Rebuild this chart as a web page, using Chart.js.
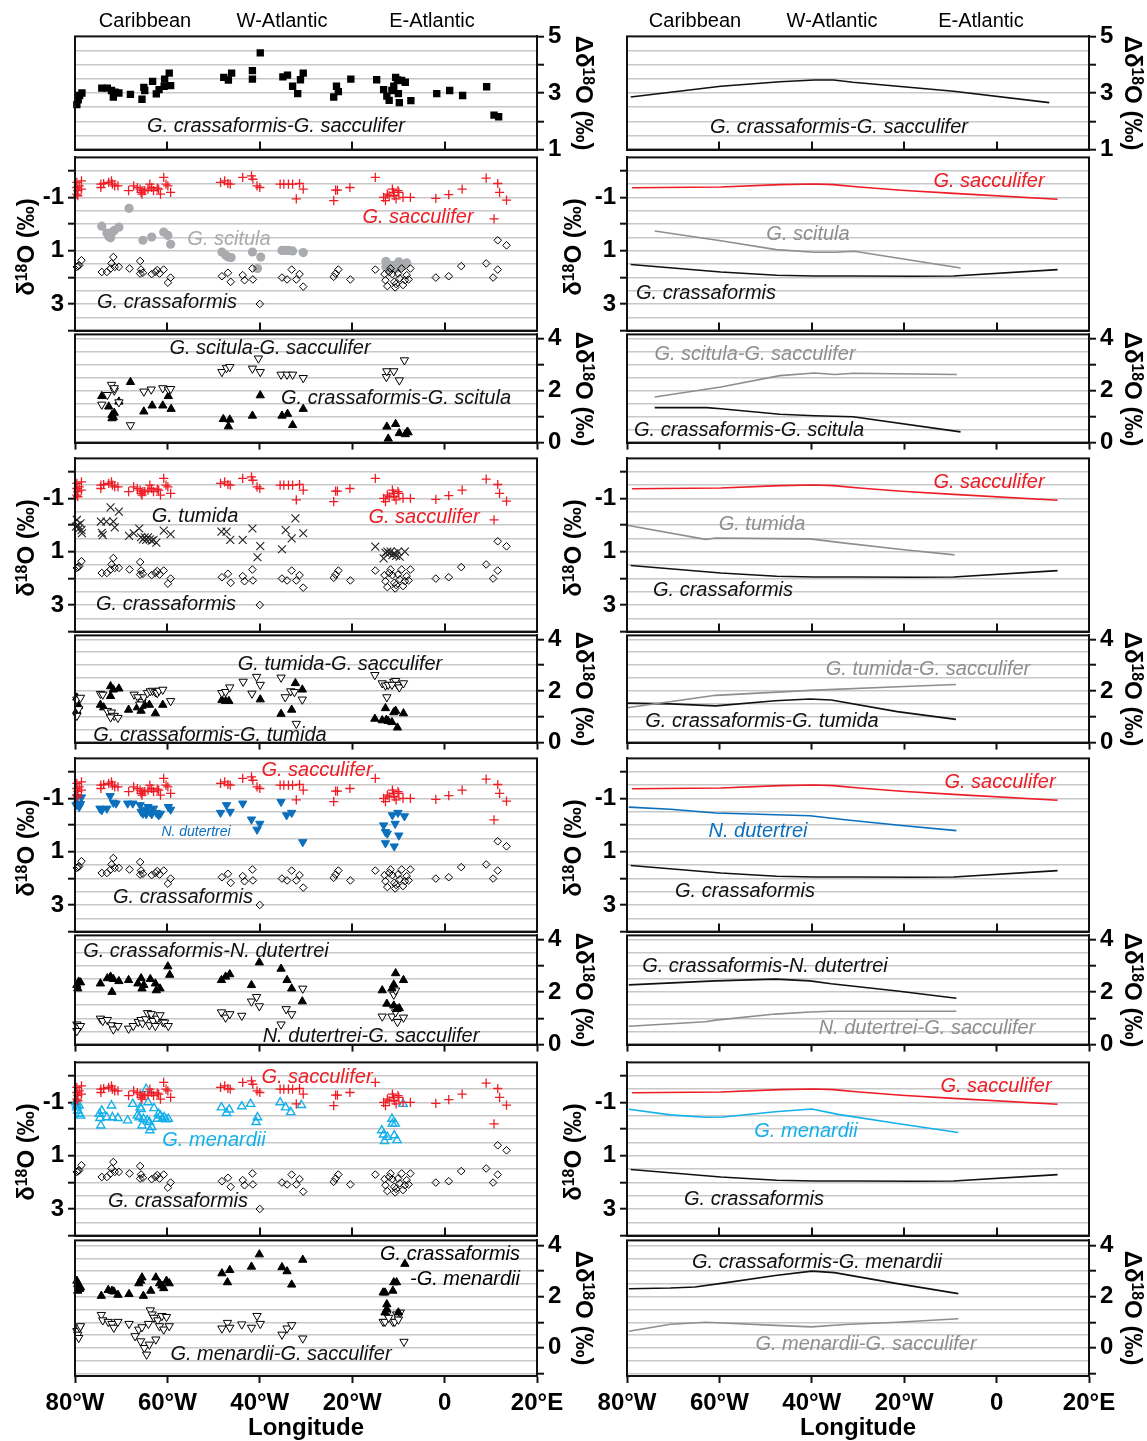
<!DOCTYPE html>
<html>
<head>
<meta charset="utf-8">
<script src="https://cdn.jsdelivr.net/npm/chart.js@4.4.1/dist/chart.umd.min.js"></script>
<style>
  html, body { margin: 0; padding: 0; background: #fff; }
  body { position: relative; width: 1147px; height: 1441px; overflow: hidden;
         font-family: 'Liberation Sans', Arial, Helvetica, sans-serif; }
  canvas { position: absolute; }
  .t { position: absolute; white-space: nowrap; line-height: 1; }
  .sup { font-size: 0.66em; position: relative; top: -0.42em; }
</style>
</head>
<body>
<script>
// ---------- axis ticks ----------
const lonTicks  = [-80, -60, -40, -20, 0, 20];
const lonLabels = ['80°W', '60°W', '40°W', '20°W', '0', '20°E'];
const topLabels  = [1, 3, 5];     // Δδ18O, G. crassaformis - G. sacculifer (top row)
const sepLabels  = [-1, 1, 3];    // δ18O of single species
const diffLabels = [0, 2, 4];     // Δδ18O between species

// ---------- sample data: [longitude (°E, west negative), value ‰] ----------
const crassSaccDiffPts = [[-79.6,2.59],[-79.3,2.76],[-79.0,2.91],[-78.5,3.00],
  [-74.2,3.17],[-73.0,3.17],[-72.1,3.09],[-71.7,2.86],[-71.3,3.03],[-70.5,3.00],[-68.0,2.95],[-65.5,2.78],[-65.1,3.20],[-64.9,3.09],[-63.2,3.41],[-62.4,2.97],[-61.8,3.12],[-60.7,3.24],[-60.6,3.49],[-59.6,3.70],[-59.3,3.26],
  [-47.8,3.55],[-46.8,3.46],[-46.1,3.70],[-41.6,3.79],[-41.6,3.49],[-39.9,4.42],
  [-35.0,3.57],[-34.0,3.63],[-32.9,3.24],[-31.8,2.98],[-31.2,3.47],[-30.6,3.70],
  [-24.0,2.86],[-23.4,3.24],[-23.0,3.05],[-20.3,3.49],
  [-14.7,3.47],[-13.2,3.12],[-12.5,2.89],[-12.0,2.74],[-11.4,3.09],[-11.0,3.24],[-10.6,3.55],[-10.2,3.46],[-10.0,2.98],[-9.8,2.66],[-9.3,3.44],[-8.5,3.38],[-7.3,2.73],
  [-1.7,2.98],[1.1,3.09],[3.9,2.91],[9.1,3.22],[10.7,2.22],[11.7,2.16]];

const sacculiferPts = [[-79.6,-1.56],[-79.6,-1.37],[-79.4,-1.25],[-79.1,-1.43],[-78.6,-1.62],[-78.6,-1.31],[-79.6,-1.12],[-79.4,-1.06],
  [-74.4,-1.50],[-74.4,-1.37],[-73.8,-1.52],[-72.7,-1.56],[-72.1,-1.62],[-71.9,-1.50],[-71.4,-1.43],[-70.7,-1.43],
  [-68.4,-1.25],[-67.3,-1.43],[-66.5,-1.37],[-65.9,-1.31],[-65.7,-1.19],[-65.5,-1.12],[-65.3,-1.25],[-64.9,-1.25],[-64.2,-1.31],[-63.8,-1.50],[-63.4,-1.37],[-63.0,-1.25],[-62.2,-1.35],[-61.9,-1.31],[-61.5,-1.12],[-60.8,-1.75],[-60.3,-1.50],[-59.9,-1.43],[-59.3,-1.19],
  [-48.5,-1.56],[-47.6,-1.62],[-46.9,-1.52],[-46.4,-1.50],[-43.7,-1.75],[-41.8,-1.81],[-41.5,-1.68],[-40.6,-1.43],[-40.0,-1.37],
  [-35.6,-1.50],[-34.8,-1.50],[-33.8,-1.50],[-32.9,-1.50],[-31.4,-1.52],[-30.6,-1.31],[-32.1,-0.94],
  [-24.0,-0.88],[-23.6,-1.27],[-23.2,-1.27],[-20.5,-1.37],
  [-15.0,-1.75],[-13.2,-1.00],[-12.8,-0.88],[-12.4,-1.12],[-12.0,-1.06],[-11.3,-1.31],[-11.1,-1.19],[-10.9,-1.06],[-10.5,-0.94],[-10.1,-1.25],[-9.9,-1.19],[-9.0,-1.00],[-7.4,-1.00],
  [-1.9,-0.96],[0.9,-1.10],[3.8,-1.31],[9.0,-1.72],[11.5,-1.52],[11.9,-1.19],[13.4,-0.90],[10.7,-0.19]];

const crassaformisPts = [[-79.6,1.61],[-79.4,1.58],[-79.1,1.55],[-78.6,1.36],
  [-74.2,1.80],[-73.1,1.80],[-72.3,1.67],[-71.7,1.24],[-72.1,1.48],[-71.4,1.61],[-70.5,1.61],
  [-68.2,1.67],[-65.9,1.39],[-65.7,1.71],[-65.9,1.86],[-65.3,1.83],[-63.4,1.88],[-62.6,1.80],[-62.2,1.73],[-61.7,1.86],[-60.8,1.71],[-59.9,2.20],[-59.3,2.01],
  [-48.2,1.96],[-46.9,1.83],[-46.3,2.17],[-43.7,1.92],[-43.3,2.11],[-41.6,1.67],[-41.5,2.08],[-40.0,3.00],
  [-35.2,2.01],[-34.1,2.08],[-33.1,1.71],[-32.1,2.08],[-31.4,1.88],[-30.6,2.35],
  [-24.0,1.98],[-23.6,1.86],[-23.0,1.71],[-20.4,2.08],
  [-15.0,1.71],[-13.0,1.88],[-12.8,2.11],[-12.4,2.33],[-12.0,1.80],[-11.7,1.67],[-11.3,1.88],[-10.9,2.17],[-10.7,2.38],[-10.5,2.25],[-10.1,1.86],[-9.7,2.04],[-9.3,1.67],[-9.0,2.29],[-8.6,2.11],[-8.2,1.92],[-7.8,2.08],[-7.4,1.67],
  [-1.9,2.01],[0.9,1.96],[3.6,1.58],[9.0,1.48],[10.5,2.01],[11.5,1.71],[11.5,0.61],[13.4,0.80]];

const scitulaPts = [[-68.3,-0.59],[-74.2,0.08],[-73.1,0.34],[-72.7,0.47],[-72.3,0.52],[-71.9,0.30],[-71.5,0.24],[-70.5,0.12],[-65.3,0.61],[-63.4,0.49],[-60.8,0.30],[-59.9,0.43],[-59.3,0.76],
  [-48.2,1.05],[-47.4,1.17],[-46.8,1.24],[-46.2,1.26],[-41.6,1.05],[-40.5,1.67],[-39.8,1.24],
  [-35.2,0.99],[-34.4,0.99],[-33.8,0.99],[-32.9,1.01],[-30.6,1.07],
  [-12.7,1.40],[-12.7,1.61],[-11.3,1.55],[-9.9,1.42],[-8.2,1.46],[-9.1,1.58],[-10.5,1.67],[-11.7,1.67]];

const scitSaccDiffPts = [[-74.2,1.46],[-73.0,1.83],[-72.1,2.22],[-71.5,2.00],[-71.5,2.09],[-70.5,1.55],[-68.0,0.67],[-65.1,1.96],[-63.5,2.04],[-61.0,2.09],[-59.8,2.04],[-59.3,2.06],
  [-48.2,2.71],[-47.2,2.86],[-46.5,2.90],[-41.6,2.84],[-40.3,3.23],[-39.9,2.71],[-35.4,2.61],[-34.1,2.61],[-32.9,2.61],[-30.6,2.48],
  [-12.6,2.52],[-12.5,2.74],[-11.0,2.74],[-9.8,2.39],[-8.7,3.16]];

const crassScitDiffPts = [[-74.2,1.78],[-72.7,1.38],[-72.0,1.06],[-71.7,0.97],[-71.5,1.14],[-70.5,1.57],[-68.0,2.32],[-65.1,1.19],[-63.3,1.42],[-61.0,1.42],[-59.8,1.78],[-59.2,1.29],[-72.0,0.93],
  [-47.9,0.90],[-46.5,0.88],[-46.8,0.62],[-41.6,1.03],[-39.9,1.81],[-35.2,1.03],[-34.0,1.10],[-32.9,0.67],[-30.6,1.29],
  [-12.5,0.61],[-12.2,0.15],[-10.6,0.71],[-9.8,0.36],[-8.5,0.32],[-8.1,0.41],[-7.9,0.39]];

const tumidaPts = [[-79.6,-0.19],[-79.4,0.00],[-79.1,0.13],[-78.8,-0.06],[-78.6,0.19],[-78.5,0.31],[-79.8,0.06],
  [-74.4,-0.13],[-74.2,0.29],[-74.0,0.38],[-73.2,-0.13],[-72.3,-0.66],[-71.7,-0.13],[-71.4,0.09],[-70.5,-0.50],
  [-68.3,0.41],[-67.3,0.31],[-66.1,0.13],[-65.7,0.46],[-65.3,0.54],[-64.9,0.46],[-64.6,0.56],[-64.2,0.46],[-63.8,0.54],[-63.4,0.59],[-63.0,0.56],[-62.4,0.66],[-60.8,0.21],[-59.3,0.34],
  [-48.3,0.25],[-47.2,0.25],[-46.4,0.56],[-43.7,0.56],[-41.6,0.13],[-40.5,1.21],[-39.9,0.79],[-35.2,0.91],[-34.4,0.19],[-33.1,0.50],[-32.3,-0.25],[-30.6,0.31],
  [-15.0,0.81],[-13.2,1.25],[-12.8,1.04],[-12.4,1.00],[-12.0,1.06],[-11.7,1.00],[-11.3,1.13],[-10.9,1.06],[-10.5,1.16],[-10.1,1.00],[-9.7,1.19],[-8.6,1.00]];

const tumSaccDiffPts = [[-79.6,1.67],[-79.2,1.30],[-79.6,1.04],[-78.8,1.74],[-74.5,1.89],[-74.0,1.86],[-73.0,1.23],[-72.1,1.17],[-71.5,1.04],[-70.7,0.96],[-72.3,0.98],[-67.2,1.86],[-66.4,1.76],[-65.5,1.58],[-65.1,1.76],[-64.3,1.92],[-63.7,1.99],[-63.2,2.01],[-62.6,1.96],[-62.2,1.92],[-61.8,2.01],[-61.0,2.05],[-59.3,1.61],[-66.0,1.48],
  [-48.2,1.92],[-47.4,1.96],[-46.5,2.14],[-43.6,2.36],[-41.7,1.90],[-40.7,2.55],[-39.9,2.24],[-35.4,2.52],[-34.5,1.76],[-33.3,1.99],[-32.5,1.96],[-30.8,1.67],[-32.1,0.73],
  [-15.1,2.62],[-13.5,2.30],[-12.8,2.21],[-12.5,1.76],[-12.2,2.24],[-11.0,2.36],[-10.6,2.39],[-10.2,2.24],[-9.8,2.14],[-8.9,2.30],[-11.4,2.24]];

const crassTumDiffPts = [[-79.6,1.74],[-79.2,1.42],[-79.6,1.23],[-74.5,1.46],[-73.8,1.36],[-72.3,2.18],[-71.7,2.05],[-70.5,2.09],[-72.3,1.80],[-68.4,1.27],[-66.5,1.36],[-65.7,1.23],[-65.5,1.42],[-65.1,1.51],[-63.9,1.46],[-62.6,1.13],[-61.0,1.46],
  [-48.2,1.65],[-47.4,1.61],[-46.7,1.61],[-39.9,1.67],[-35.4,1.11],[-33.1,1.27],[-32.3,2.30],[-30.8,2.05],
  [-15.1,0.92],[-13.5,0.86],[-12.8,1.33],[-12.2,0.83],[-11.4,0.79],[-11.0,1.17],[-10.6,1.23],[-10.2,0.58],[-8.9,1.13],[-12.6,0.88]];

const dutertreiPts = [[-79.6,-1.06],[-79.4,-0.81],[-79.2,-0.71],[-79.1,-0.68],[-78.8,-0.79],[-78.6,-1.04],[-79.8,-0.75],
  [-74.6,-0.62],[-74.2,-0.56],[-73.1,-0.62],[-72.4,-1.09],[-71.7,-0.84],[-71.1,-0.81],[-68.6,-0.81],[-67.5,-0.81],[-65.9,-0.75],[-65.7,-0.50],[-65.3,-0.43],[-64.9,-0.58],[-64.6,-0.41],[-64.2,-0.68],[-63.8,-0.50],[-63.4,-0.41],[-63.0,-0.62],[-62.4,-0.46],[-61.9,-0.37],[-61.5,-0.43],[-59.8,-0.68],[-59.3,-0.58],
  [-48.5,-0.46],[-47.2,-0.75],[-46.4,-0.50],[-43.7,-0.81],[-41.8,-0.21],[-40.6,0.17],[-40.0,-0.05],[-35.4,-0.87],[-34.2,-0.37],[-33.1,-0.46],[-30.7,0.64],
  [-13.2,0.01],[-12.8,0.26],[-12.4,0.32],[-12.8,0.68],[-10.9,0.80],[-11.3,-0.37],[-10.7,-0.05],[-10.1,-0.46],[-9.9,0.39],[-8.7,-0.33]];

const crassDutDiffPts = [[-79.6,2.26],[-79.2,2.39],[-78.8,2.36],[-79.4,2.13],[-74.5,2.32],[-73.0,2.52],[-72.3,2.58],[-72.0,2.00],[-71.7,2.49],[-70.5,2.41],[-68.4,2.45],[-66.4,2.32],[-65.7,2.52],[-65.5,2.13],[-65.1,2.26],[-63.7,2.49],[-62.6,2.32],[-62.4,2.06],[-61.6,2.13],[-59.9,2.97],[-59.5,2.65],
  [-48.3,2.45],[-47.4,2.58],[-46.5,2.67],[-41.8,2.26],[-40.1,3.12],[-35.4,2.88],[-34.1,2.45],[-33.1,2.13],[-30.8,1.64],
  [-13.5,2.06],[-11.4,2.13],[-11.0,2.28],[-10.6,2.71],[-8.9,2.45],[-12.5,1.55],[-11.0,1.48],[-10.3,1.35],[-9.8,1.38]];

const dutSaccDiffPts = [[-79.6,0.77],[-79.2,0.65],[-78.8,0.71],[-79.6,0.52],[-74.5,0.99],[-74.0,0.90],[-73.0,0.94],[-72.1,0.74],[-71.7,0.58],[-70.7,0.71],[-68.4,0.61],[-67.4,0.71],[-66.3,0.86],[-65.7,0.94],[-65.4,0.81],[-64.7,0.97],[-64.3,1.20],[-63.9,0.74],[-63.5,1.16],[-63.1,0.90],[-62.6,0.71],[-62.2,0.99],[-61.6,1.12],[-61.0,0.86],[-60.6,0.84],[-59.8,0.71],
  [-48.3,1.23],[-47.4,1.03],[-46.5,1.16],[-43.9,1.10],[-41.8,1.64],[-40.7,1.81],[-40.1,1.46],[-35.4,0.77],[-34.3,1.35],[-33.1,1.16],[-30.7,2.13],
  [-13.5,1.07],[-11.4,1.07],[-11.0,1.90],[-10.6,2.06],[-10.2,0.86],[-8.9,1.03],[-10.6,1.23]];

const menardiiPts = [[-79.8,-1.00],[-79.6,-0.81],[-79.4,-0.69],[-79.1,-0.57],[-78.8,-0.50],[-79.6,-0.90],[-79.1,-0.88],
  [-74.7,-0.57],[-74.6,-0.41],[-74.4,-0.13],[-74.2,-0.69],[-73.1,-0.44],[-72.1,-0.88],[-71.9,-0.44],[-70.7,-0.41],[-68.6,-0.32],[-67.5,-0.94],[-66.5,-0.50],[-66.1,-0.44],[-65.9,-0.81],[-65.7,-0.75],[-65.5,-0.13],[-65.2,-0.38],[-64.6,-1.50],[-64.4,-0.32],[-64.2,-1.00],[-63.9,-0.26],[-63.8,0.05],[-63.4,-0.07],[-62.9,-0.78],[-62.2,-0.38],[-61.9,-0.57],[-61.5,-0.50],[-61.1,-0.38],[-60.7,-0.44],[-60.3,-0.36],[-59.8,-0.38],
  [-48.3,-0.81],[-47.2,-0.60],[-46.6,-0.73],[-43.9,-0.85],[-42.0,-0.94],[-40.8,-0.26],[-40.5,-0.44],
  [-35.6,-1.00],[-34.4,-0.81],[-33.3,-0.63],[-31.0,-0.90],
  [-13.6,0.05],[-13.2,0.21],[-13.0,0.46],[-12.4,0.30],[-11.4,-0.38],[-11.3,-0.20],[-10.7,-0.20],[-10.3,0.42],[-10.9,0.24],[-9.0,-0.94]];

const crassMenDiffPts = [[-79.6,2.62],[-79.4,2.49],[-79.2,2.36],[-79.0,2.30],[-79.4,2.23],[-78.8,2.36],
  [-74.3,2.03],[-72.8,2.26],[-72.0,2.23],[-71.6,2.20],[-70.7,2.07],[-68.3,2.10],[-66.2,2.52],[-65.8,2.62],[-65.5,2.75],[-65.2,2.03],[-63.6,2.23],[-62.5,2.75],[-61.7,2.52],[-61.2,2.43],[-60.8,2.33],[-60.2,2.62],[-59.6,2.52],
  [-48.2,2.91],[-46.5,3.04],[-47.0,2.56],[-41.8,3.17],[-40.1,3.65],[-35.2,3.15],[-34.1,2.99],[-33.1,2.47],[-30.7,3.44],
  [-13.3,2.16],[-12.9,2.16],[-12.5,1.70],[-11.2,2.23],[-11.0,2.56],[-10.4,2.56],[-10.0,1.38],[-8.6,3.28],[-12.9,1.38],[-12.5,1.51]];

const menSaccDiffPts = [[-79.6,0.66],[-79.4,0.52],[-79.2,0.39],[-79.0,0.79],[-78.8,0.85],
  [-74.3,1.29],[-74.0,1.08],[-72.8,1.02],[-72.0,0.94],[-71.6,0.79],[-70.7,1.02],[-68.3,0.94],[-67.0,0.46],[-66.2,0.72],[-65.8,0.26],[-65.5,0.81],[-65.0,0.00],[-64.5,-0.26],[-64.1,0.94],[-63.9,0.13],[-63.7,1.47],[-63.3,1.31],[-62.9,1.18],[-62.5,0.33],[-62.1,1.08],[-61.7,0.85],[-61.2,1.25],[-60.8,0.72],[-60.2,1.21],[-59.6,0.85],
  [-48.2,0.76],[-47.0,0.98],[-46.5,0.79],[-43.9,0.92],[-41.8,0.79],[-40.6,1.25],[-39.9,0.94],
  [-35.2,0.52],[-34.1,0.76],[-33.1,0.89],[-30.7,0.37],
  [-13.3,1.02],[-12.9,1.02],[-12.5,1.31],[-11.2,1.02],[-10.8,1.02],[-10.4,1.31],[-10.0,1.11],[-9.6,1.38],[-8.8,0.24],[-12.1,1.18]];

// ---------- regional mean curves ----------
const lineCrassSacc = [[-79.2,2.86],[-59.7,3.24],[-46.9,3.40],[-39.4,3.46],[-35.3,3.46],[-31.1,3.38],[-9.3,3.06],[11.4,2.66]];
const lineSacc      = [[-78.9,-1.36],[-59.7,-1.39],[-46.9,-1.48],[-39.4,-1.50],[-35.3,-1.48],[-30.4,-1.40],[-20.6,-1.27],[-9.3,-1.15],[13.2,-0.93]];
const lineCrass     = [[-79.2,1.52],[-59.7,1.80],[-47.6,1.92],[-39.4,1.95],[-31.0,1.95],[-18.0,1.96],[-9.3,1.95],[13.2,1.71]];
const lineScitula   = [[-74.0,0.26],[-59.7,0.63],[-47.7,0.96],[-39.4,1.06],[-34.9,1.06],[-30.8,1.02],[-7.8,1.65]];
const lineScitSacc  = [[-74.0,1.75],[-59.7,2.13],[-46.9,2.57],[-39.4,2.67],[-35.0,2.61],[-31.1,2.66],[-8.6,2.61]];
const lineCrassScit = [[-74.0,1.34],[-62.7,1.34],[-59.7,1.30],[-46.9,1.09],[-39.4,1.03],[-31.1,0.99],[-7.8,0.41]];
const lineTumida    = [[-80.0,0.01],[-63.0,0.54],[-60.8,0.49],[-40.4,0.52],[-32.8,0.68],[-20.0,0.93],[-9.1,1.12]];
const lineTumSacc   = [[-80.0,1.35],[-60.8,1.83],[-40.4,2.02],[-20.0,2.17],[-8.8,2.25]];
const lineCrassTum  = [[-80.0,1.53],[-70.6,1.50],[-60.8,1.42],[-47.9,1.62],[-40.4,1.69],[-35.8,1.65],[-21.5,1.20],[-8.8,0.90]];
const lineDut       = [[-79.6,-0.67],[-70.6,-0.59],[-60.8,-0.45],[-40.4,-0.35],[-32.8,-0.20],[-20.0,0.03],[-8.7,0.21]];
const lineCrassDut  = [[-79.6,2.27],[-60.8,2.42],[-47.9,2.49],[-40.4,2.42],[-35.8,2.31],[-21.5,2.04],[-8.7,1.76]];
const lineDutSacc   = [[-79.6,0.70],[-63.0,0.87],[-60.8,0.93],[-47.9,1.16],[-40.4,1.24],[-35.8,1.27],[-8.7,1.27]];
const lineMen       = [[-79.6,-0.74],[-70.6,-0.53],[-63.0,-0.44],[-59.2,-0.45],[-47.9,-0.65],[-40.0,-0.75],[-34.3,-0.55],[-21.5,-0.21],[-8.3,0.13]];
const lineCrassMen  = [[-79.6,2.31],[-70.6,2.34],[-65.3,2.38],[-59.2,2.53],[-47.9,2.83],[-40.0,3.00],[-35.1,2.94],[-21.5,2.51],[-8.3,2.12]];
const lineMenSacc   = [[-79.6,0.65],[-70.6,0.92],[-63.0,1.00],[-59.2,0.97],[-47.9,0.88],[-40.0,0.82],[-32.8,0.91],[-21.5,1.00],[-8.3,1.14]];

// ---------- page layout ----------
const FONT = "'Liberation Sans', Arial, Helvetica, sans-serif";
Chart.defaults.font.family = FONT;

const rowTop = [36, 157, 334, 458, 635, 758, 935, 1062, 1240];
const rowBot = [150, 331, 443, 632, 743, 932, 1045, 1236, 1376];
const colLeft = [75, 627];
const colRight = [537, 1089];

const SEP = { min: -2.5, max: 4, reverse: true, side: 'left', labels: sepLabels, inward: true };
const DIF = { min: 0, max: 4.15, reverse: false, side: 'right', labels: diffLabels, inward: false };
const rowAxis = [
  { min: 1, max: 5, reverse: false, side: 'right', labels: topLabels, inward: true },
  SEP, DIF, SEP, DIF, SEP, DIF, SEP,
  { min: -1.1, max: 4.2, reverse: false, side: 'right', labels: diffLabels, inward: false }
];

const RED = '#ee1c25', BLUE = '#0b6fbd', CYAN = '#14b0ea', GRAY = '#8e8e90', LIGHT = '#a9abae', INK = '#111';
const CLEAR = 'rgba(0,0,0,0)';

const MARK = {
  square:  { pointStyle: 'rect', pointRadius: 5.2, pointBackgroundColor: '#000', pointBorderWidth: 0 },
  plus:    { pointStyle: 'cross', pointRadius: 4.6, pointBorderColor: RED, pointBorderWidth: 1.3 },
  diamond: { pointStyle: 'rectRot', pointRadius: 3.8, pointBackgroundColor: CLEAR, pointBorderColor: '#000', pointBorderWidth: 1 },
  dot:     { pointStyle: 'circle', pointRadius: 4.6, pointBackgroundColor: LIGHT, pointBorderWidth: 0 },
  xmark:   { pointStyle: 'crossRot', pointRadius: 5.6, pointBorderColor: '#222', pointBorderWidth: 1.1 },
  triUp:   { pointStyle: 'triangle', pointRadius: 4.8, pointBackgroundColor: '#000', pointBorderColor: '#000', pointBorderWidth: 1 },
  triOpen: { pointStyle: 'triangle', pointRotation: 180, pointRadius: 4.8, pointBackgroundColor: '#fff', pointBorderColor: '#000', pointBorderWidth: 1 },
  triBlue: { pointStyle: 'triangle', pointRotation: 180, pointRadius: 4.8, pointBackgroundColor: BLUE, pointBorderColor: BLUE, pointBorderWidth: 1 },
  triCyan: { pointStyle: 'triangle', pointRadius: 4.8, pointBackgroundColor: CLEAR, pointBorderColor: CYAN, pointBorderWidth: 1.4 }
};
const lineStyle = c => ({ showLine: true, borderColor: c, borderWidth: 1.6, pointRadius: 0, tension: 0, fill: false });

const toXY = a => a.map(([x, y]) => ({ x, y }));
const scat = (data, m) => Object.assign({ data: toXY(data), clip: 8, showLine: false }, MARK[m]);
const curve = (data, c) => Object.assign({ data: toXY(data), clip: 4 }, lineStyle(c));

// first dataset in each list is painted on top
const leftPanels = [
  [scat(crassSaccDiffPts, 'square')],
  [scat(sacculiferPts, 'plus'), scat(crassaformisPts, 'diamond'), scat(scitulaPts, 'dot')],
  [scat(scitSaccDiffPts, 'triOpen'), scat(crassScitDiffPts, 'triUp')],
  [scat(sacculiferPts, 'plus'), scat(tumidaPts, 'xmark'), scat(crassaformisPts, 'diamond')],
  [scat(tumSaccDiffPts, 'triOpen'), scat(crassTumDiffPts, 'triUp')],
  [scat(sacculiferPts, 'plus'), scat(dutertreiPts, 'triBlue'), scat(crassaformisPts, 'diamond')],
  [scat(crassDutDiffPts, 'triUp'), scat(dutSaccDiffPts, 'triOpen')],
  [scat(sacculiferPts, 'plus'), scat(menardiiPts, 'triCyan'), scat(crassaformisPts, 'diamond')],
  [scat(crassMenDiffPts, 'triUp'), scat(menSaccDiffPts, 'triOpen')]
];
const rightPanels = [
  [curve(lineCrassSacc, INK)],
  [curve(lineSacc, RED), curve(lineScitula, GRAY), curve(lineCrass, INK)],
  [curve(lineScitSacc, GRAY), curve(lineCrassScit, INK)],
  [curve(lineSacc, RED), curve(lineTumida, GRAY), curve(lineCrass, INK)],
  [curve(lineTumSacc, GRAY), curve(lineCrassTum, INK)],
  [curve(lineSacc, RED), curve(lineDut, BLUE), curve(lineCrass, INK)],
  [curve(lineCrassDut, INK), curve(lineDutSacc, GRAY)],
  [curve(lineSacc, RED), curve(lineMen, CYAN), curve(lineCrass, INK)],
  [curve(lineCrassMen, INK), curve(lineMenSacc, GRAY)]
];

// frame around each plot area, plus the short inward longitude ticks
const panelFrame = {
  id: 'panelFrame',
  afterDraw(chart, args, opts) {
    const { ctx, chartArea: a } = chart;
    const x = chart.scales.x;
    ctx.save();
    ctx.strokeStyle = INK;
    ctx.lineWidth = 2;
    ctx.strokeRect(a.left, a.top, a.right - a.left, a.bottom - a.top);
    if (opts.inward) {
      ctx.beginPath();
      lonTicks.slice(1, -1).forEach(v => {
        const px = Math.round(x.getPixelForValue(v));
        ctx.moveTo(px, a.bottom);
        ctx.lineTo(px, a.bottom - 8);
      });
      ctx.stroke();
    }
    ctx.restore();
  }
};

function makePanel(row, col, datasets) {
  const ax = rowAxis[row];
  const last = row === rowAxis.length - 1;
  const x0 = colLeft[col], x1 = colRight[col], y0 = rowTop[row], y1 = rowBot[row];
  const ML = ax.side === 'left' ? 72 : 46;
  const MR = ax.side === 'right' ? 46 : 46;
  const MT = 18, MB = last ? 46 : 18;
  const cv = document.createElement('canvas');
  cv.width = x1 - x0 + ML + MR;
  cv.height = y1 - y0 + MT + MB;
  cv.style.left = (x0 - ML) + 'px';
  cv.style.top = (y0 - MT) + 'px';
  document.body.appendChild(cv);
  const tickFont = { family: FONT, size: 24, weight: 'bold' };
  new Chart(cv, {
    type: 'scatter',
    data: { datasets },
    options: {
      responsive: false,
      animation: false,
      events: [],
      layout: { padding: { left: ax.side === 'left' ? 0 : ML, right: ax.side === 'right' ? 0 : MR, top: MT, bottom: 0 } },
      plugins: { legend: { display: false }, tooltip: { enabled: false }, panelFrame: { inward: ax.inward } },
      scales: {
        x: {
          type: 'linear', position: 'bottom', min: lonTicks[0], max: lonTicks[lonTicks.length - 1],
          afterBuildTicks: s => { s.ticks = lonTicks.map(v => ({ value: v })); },
          afterFit: s => { s.height = MB; },
          ticks: { display: last, autoSkip: false, maxRotation: 0, padding: 6, color: '#000', font: tickFont,
                   callback: v => lonLabels[lonTicks.indexOf(v)] },
          grid: { drawOnChartArea: false, drawTicks: !ax.inward, tickLength: 7, tickWidth: 2, tickColor: INK },
          border: { display: true, color: INK, width: 2 }
        },
        y: {
          type: 'linear', position: ax.side, min: ax.min, max: ax.max, reverse: ax.reverse,
          afterFit: s => { s.width = ax.side === 'left' ? ML : MR; },
          ticks: { stepSize: 0.5, includeBounds: false, autoSkip: false, padding: 4, color: '#000', font: tickFont,
                   callback: v => ax.labels.includes(v) ? String(v) : '' },
          grid: {
            color: c => (c.tick && (c.tick.value <= ax.min || c.tick.value >= ax.max)) ? CLEAR : '#c8c8c8',
            lineWidth: 1.4,
            drawTicks: true, tickLength: 7, tickWidth: 2,
            tickColor: c => (c.tick && Number.isInteger(c.tick.value)) ? INK : CLEAR
          },
          border: { display: true, color: INK, width: 2 }
        }
      }
    },
    plugins: [panelFrame]
  });
}

leftPanels.forEach((sets, r) => makePanel(r, 0, sets));
rightPanels.forEach((sets, r) => makePanel(r, 1, sets));

// ---------- text ----------
function addText(html, x, y, o = {}) {
  const d = document.createElement('div');
  d.className = 't';
  d.innerHTML = html;
  d.style.left = x + 'px';
  d.style.top = y + 'px';
  d.style.fontSize = (o.size || 20) + 'px';
  d.style.color = o.color || '#000';
  if (o.italic) d.style.fontStyle = 'italic';
  if (o.bold) d.style.fontWeight = 'bold';
  let tf = o.anchor === 'end' ? 'translate(-100%,-50%)' : 'translate(-50%,-50%)';
  if (o.rot) tf += ' rotate(' + o.rot + 'deg)';
  d.style.transform = tf;
  document.body.appendChild(d);
}

// region headers
[['Caribbean', 145], ['W-Atlantic', 282], ['E-Atlantic', 432]].forEach(([t, x]) => addText(t, x, 20));
[['Caribbean', 695], ['W-Atlantic', 832], ['E-Atlantic', 981]].forEach(([t, x]) => addText(t, x, 20));

// axis titles
const sepTitle = 'δ<span class="sup">18</span>O (‰)';
const difTitle = 'Δδ<span class="sup">18</span>O (‰)';
rowAxis.forEach((ax, r) => {
  const cy = (rowTop[r] + rowBot[r]) / 2;
  if (ax.side === 'left') {
    addText(sepTitle, 26, cy + 3, { bold: true, size: 24, rot: -90 });
    addText(sepTitle, 573, cy + 3, { bold: true, size: 24, rot: -90 });
  } else {
    addText(difTitle, 584, cy, { bold: true, size: 24, rot: 90 });
    addText(difTitle, 1133, cy, { bold: true, size: 24, rot: 90 });
  }
});
addText('Longitude', 306, 1427, { bold: true, size: 24 });
addText('Longitude', 858, 1427, { bold: true, size: 24 });

// species labels
const speciesLabels = [
  ['G. crassaformis-G. sacculifer', 276, 125, INK],
  ['G. sacculifer', 418, 216, RED], ['G. scitula', 229, 238, LIGHT], ['G. crassaformis', 167, 301, INK],
  ['G. scitula-G. sacculifer', 270, 347, INK], ['G. crassaformis-G. scitula', 396, 397, INK],
  ['G. tumida', 195, 515, INK], ['G. sacculifer', 424, 516, RED], ['G. crassaformis', 166, 603, INK],
  ['G. tumida-G. sacculifer', 340, 663, INK], ['G. crassaformis-G. tumida', 210, 734, INK],
  ['G. sacculifer', 317, 769, RED], ['G. crassaformis', 183, 896, INK],
  ['G. crassaformis-N. dutertrei', 206, 950, INK], ['N. dutertrei-G. sacculifer', 371, 1035, INK],
  ['G. sacculifer', 317, 1076, RED], ['G. menardii', 214, 1139, CYAN], ['G. crassaformis', 178, 1200, INK],
  ['G. menardii-G. sacculifer', 281, 1353, INK],

  ['G. crassaformis-G. sacculifer', 839, 126, INK],
  ['G. sacculifer', 989, 180, RED], ['G. scitula', 808, 233, GRAY], ['G. crassaformis', 706, 292, INK],
  ['G. scitula-G. sacculifer', 755, 353, GRAY], ['G. crassaformis-G. scitula', 749, 429, INK],
  ['G. sacculifer', 989, 481, RED], ['G. tumida', 762, 523, GRAY], ['G. crassaformis', 723, 589, INK],
  ['G. tumida-G. sacculifer', 928, 668, GRAY], ['G. crassaformis-G. tumida', 762, 720, INK],
  ['G. sacculifer', 1000, 781, RED], ['N. dutertrei', 758, 830, BLUE], ['G. crassaformis', 745, 890, INK],
  ['G. crassaformis-N. dutertrei', 765, 965, INK], ['N. dutertrei-G. sacculifer', 927, 1027, GRAY],
  ['G. sacculifer', 996, 1085, RED], ['G. menardii', 806, 1130, CYAN], ['G. crassaformis', 754, 1198, INK],
  ['G. crassaformis-G. menardii', 817, 1261, INK], ['G. menardii-G. sacculifer', 866, 1343, GRAY]
];
speciesLabels.forEach(([t, x, y, c]) => addText(t, x, y, { italic: true, color: c }));
addText('N. dutertrei', 196, 831, { italic: true, color: BLUE, size: 14 });
addText('G. crassaformis', 520, 1253, { italic: true, anchor: 'end' });
addText('-G. menardii', 520, 1278, { italic: true, anchor: 'end' });
</script>
</body>
</html>
